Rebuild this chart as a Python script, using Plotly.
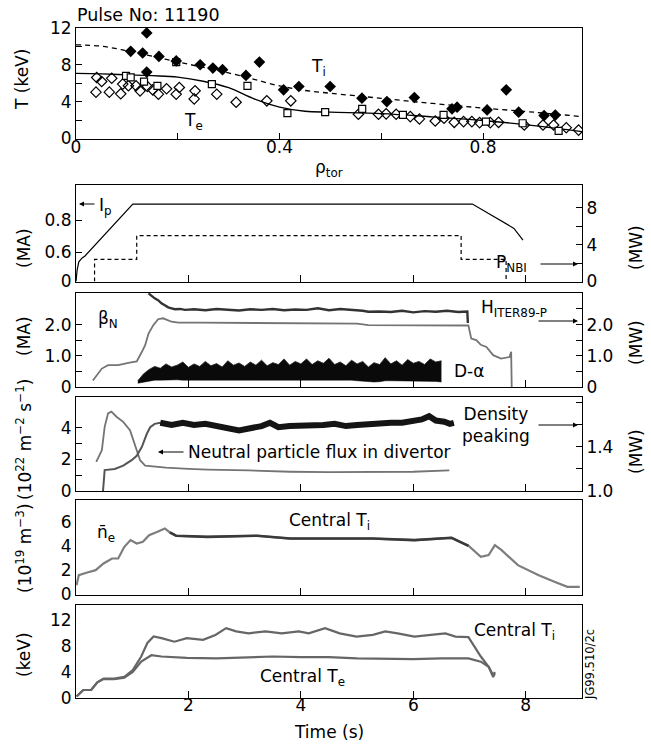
import plotly.graph_objects as go

FONT = "DejaVu Sans"
FS = 17
W, H = 651, 747
L, R = 76, 582

# ---------------- data: top panel (profiles vs rho_tor) ----------------
ti_rho = [0.1075, 0.131, 0.139, 0.139, 0.163, 0.197, 0.244, 0.269, 0.288, 0.334, 0.3605, 0.408,
          0.438, 0.4995, 0.562, 0.611, 0.665, 0.739, 0.749, 0.808, 0.8456, 0.870, 0.920, 0.942]
ti_val = [9.44, 9.26, 11.43, 7.19, 8.89, 8.4, 7.99, 7.63, 7.45, 6.83, 8.28, 5.27,
          5.63, 5.63, 4.37, 4.0, 4.44, 3.21, 3.39, 3.1, 5.27, 2.85, 2.48, 2.54]

te_sq_rho = [0.0983, 0.1075, 0.1337, 0.160, 0.197, 0.267, 0.337, 0.4155, 0.4897, 0.5625,
             0.6425, 0.7224, 0.8057, 0.8778, 0.9485]
te_sq_val = [6.79, 6.61, 6.17, 5.71, 8.28, 5.89, 5.71, 2.74, 2.85, 3.21,
             2.55, 2.55, 1.83, 1.65, 0.82]

te_dm_rho = [0.0407, 0.0505, 0.0702, 0.0393, 0.0655, 0.0879, 0.0918, 0.103, 0.118, 0.1259,
             0.1403, 0.1508, 0.162, 0.178, 0.197, 0.203, 0.234, 0.2323, 0.2767, 0.3147,
             0.375, 0.4222, 0.555, 0.5945, 0.6095, 0.6292, 0.657, 0.675, 0.706, 0.7233,
             0.7434, 0.7617, 0.778, 0.7932, 0.8142, 0.8305, 0.881, 0.9178, 0.9387, 0.9636, 0.9878]
te_dm_val = [6.61, 6.17, 6.52, 5.02, 5.02, 4.84, 5.89, 5.71, 5.71, 5.16,
             5.63, 5.27, 4.8, 5.38, 4.8, 5.52, 5.16, 4.29, 4.8, 3.93,
             4.08, 4.08, 2.63, 2.63, 2.67, 2.63, 2.37, 2.12, 1.9, 2.19,
             1.75, 1.83, 1.83, 1.72, 1.72, 1.75, 1.46, 1.46, 1.46, 1.17, 0.91]

fit_rho = [0, 0.05, 0.1, 0.15, 0.2, 0.25, 0.3, 0.35, 0.4, 0.45, 0.5, 0.6, 0.7, 0.8, 0.9, 0.995]
ti_fit = [10.15, 10.0, 9.5, 8.9, 8.3, 7.7, 7.1, 6.4, 5.7, 5.2, 4.9, 4.35, 3.8, 3.3, 2.85, 2.37]
te_fit = [7.05, 7.0, 6.9, 6.8, 6.65, 6.2, 5.5, 4.3, 3.4, 2.95, 2.85, 2.7, 2.35, 1.95, 1.4, 0.75]

# ---------------- data: time traces ----------------
ip_t = [0.0, 0.02, 0.05, 0.11, 0.16, 0.225, 1.01, 7.05, 7.79, 7.95]
ip_ma = [0.0, 0.23, 0.40, 0.48, 0.52, 0.60, 0.90, 0.90, 0.748, 0.675]

pnbi_t = [0.33, 0.33, 1.08, 6.85, 7.65]
pnbi_mw = [0.0, 2.4, 5.0, 2.4, 0.0]

h_t = [1.29, 1.35, 1.4, 1.46, 1.52, 1.58, 1.64, 1.7, 1.76, 1.85, 1.94, 2.1, 2.3, 2.5, 2.7, 2.9,
       3.1, 3.3, 3.5, 3.7, 3.9, 4.1, 4.3, 4.5, 4.7, 4.9, 5.1, 5.2, 5.4, 5.6, 5.8, 6.0, 6.2,
       6.4, 6.6, 6.8, 6.96, 6.97]
h_val = [3.0, 2.9, 2.84, 2.78, 2.68, 2.62, 2.55, 2.52, 2.49, 2.5, 2.47, 2.49, 2.46, 2.5, 2.47, 2.45,
         2.49, 2.47, 2.5, 2.46, 2.48, 2.47, 2.52, 2.46, 2.5, 2.48, 2.44, 2.41, 2.42, 2.40, 2.44, 2.39,
         2.43, 2.41, 2.44, 2.40, 2.42, 2.05]

bn_t = [0.3, 0.46, 0.57, 0.75, 0.93, 1.08, 1.17, 1.23, 1.29, 1.375, 1.46, 1.55, 1.7, 1.82, 2.2,
        3.0, 4.0, 5.0, 5.2, 6.0, 6.98, 7.03, 7.12, 7.2, 7.3, 7.42, 7.56, 7.71, 7.74, 7.75]
bn_val = [0.21, 0.59, 0.70, 0.70, 0.77, 0.82, 1.12, 1.34, 1.71, 1.98, 2.17, 2.2, 2.09, 2.06, 2.06,
          2.05, 2.04, 2.03, 1.98, 1.98, 1.97, 1.55, 1.5, 1.35, 1.28, 1.02, 0.91, 0.96, 1.13, 0.0]

da_t = [1.1, 1.2, 1.3, 1.4, 1.5, 1.6, 1.7, 1.8, 1.9, 2.0, 2.1, 2.2, 2.3, 2.4, 2.5, 2.6, 2.7, 2.8,
        2.9, 3.0, 3.1, 3.2, 3.3, 3.4, 3.5, 3.6, 3.7, 3.8, 3.9, 4.0, 4.1, 4.2, 4.3, 4.4, 4.5, 4.6,
        4.7, 4.8, 4.9, 5.0, 5.1, 5.2, 5.3, 5.4, 5.5, 5.6, 5.7, 5.8, 5.9, 6.0, 6.1, 6.2, 6.3, 6.4, 6.5]
da_hi = [0.2, 0.42, 0.56, 0.66, 0.6, 0.74, 0.64, 0.7, 0.8, 0.63, 0.74, 0.66, 0.82, 0.68, 0.75, 0.64,
         0.84, 0.7, 0.77, 0.66, 0.8, 0.7, 0.86, 0.68, 0.78, 0.72, 0.9, 0.7, 0.82, 0.74, 0.9, 0.72,
         0.84, 0.76, 0.92, 0.72, 0.8, 0.68, 0.86, 0.74, 0.82, 0.64, 0.78, 0.72, 0.94, 0.74, 0.84, 0.7,
         0.88, 0.76, 0.82, 0.72, 0.9, 0.8, 0.84]
da_lo = [0.12, 0.16, 0.2, 0.22, 0.22, 0.23, 0.22, 0.23, 0.22, 0.23, 0.22, 0.22, 0.23, 0.22, 0.22, 0.23,
         0.22, 0.22, 0.23, 0.22, 0.22, 0.22, 0.23, 0.22, 0.22, 0.22, 0.23, 0.22, 0.22, 0.22, 0.22, 0.22,
         0.22, 0.22, 0.22, 0.22, 0.22, 0.22, 0.22, 0.2, 0.18, 0.16, 0.16, 0.17, 0.2, 0.2, 0.2, 0.2,
         0.2, 0.2, 0.2, 0.2, 0.2, 0.18, 0.16]

nf_t = [0.36, 0.46, 0.51, 0.57, 0.63, 0.72, 0.84, 0.96, 1.02, 1.08, 1.14, 1.23, 1.46, 1.6, 2.0,
        2.34, 3.07, 3.81, 4.5, 5.3, 6.0, 6.64]
nf_val = [1.84, 2.58, 4.06, 4.91, 5.02, 4.7, 4.38, 3.85, 3.22, 2.58, 1.95, 1.6, 1.5, 1.48, 1.4,
          1.35, 1.3, 1.22, 1.2, 1.2, 1.22, 1.3]

dp_t = [0.48, 0.51, 0.69, 0.84, 0.99, 1.08, 1.17, 1.26, 1.32, 1.40, 1.5, 1.7, 1.9, 2.1, 2.3, 2.5,
        2.7, 2.9, 3.1, 3.3, 3.45, 3.6, 3.8, 4.0, 4.2, 4.4, 4.6, 4.8, 5.0, 5.2, 5.4, 5.6, 5.8,
        6.0, 6.15, 6.28, 6.4, 6.55, 6.65, 6.72]
dp_val = [1.0, 1.19, 1.20, 1.23, 1.28, 1.32, 1.40, 1.52, 1.58, 1.61, 1.62, 1.60, 1.62, 1.60, 1.61, 1.59,
          1.58, 1.55, 1.57, 1.59, 1.62, 1.58, 1.59, 1.59, 1.60, 1.60, 1.61, 1.59, 1.60, 1.61, 1.61, 1.62,
          1.62, 1.63, 1.65, 1.68, 1.64, 1.63, 1.61, 1.62]

ne_t = [0.01, 0.05, 0.2, 0.35, 0.49, 0.64, 0.75, 0.86, 0.97, 1.08, 1.19, 1.3, 1.45, 1.58, 1.67, 1.78,
        2.34, 3.22, 3.81, 5.28, 6.02, 6.68, 6.83, 6.98, 7.2, 7.34, 7.45, 7.57, 7.86, 8.23, 8.52,
        8.74, 8.96]
ne_val = [0.77, 1.6, 1.82, 2.01, 2.56, 2.97, 2.97, 3.94, 4.49, 4.21, 4.35, 4.9, 5.18, 5.45, 5.12, 4.85,
          4.76, 4.85, 4.62, 4.62, 4.49, 4.68, 4.35, 4.02, 3.11, 3.25, 4.07, 3.66, 2.42, 1.59, 1.04,
          0.63, 0.63]

cti_t = [0.01, 0.13, 0.27, 0.38, 0.49, 0.68, 0.86, 1.01, 1.16, 1.27, 1.38, 1.52, 1.75, 1.97, 2.26,
         2.48, 2.67, 2.85, 3.07, 3.37, 3.66, 3.96, 4.14, 4.43, 4.69, 4.99, 5.28, 5.5, 5.72, 6.02,
         6.31, 6.57, 6.75, 6.98, 7.2, 7.34, 7.42, 7.45]
cti_val = [0.2, 1.2, 1.2, 2.4, 2.97, 2.97, 3.24, 4.3, 6.4, 8.5, 9.5, 9.25, 8.7, 9.25, 9.0,
           9.75, 10.8, 10.3, 10.0, 10.3, 10.0, 10.3, 10.0, 10.8, 10.0, 9.5, 9.75, 10.3, 10.0, 9.5,
           9.75, 10.0, 9.5, 9.4, 6.4, 4.8, 3.5, 4.0]

cte_t = [0.01, 0.13, 0.27, 0.38, 0.49, 0.68, 0.86, 1.01, 1.16, 1.34, 1.52, 1.97, 2.5, 3.0, 3.5,
         4.0, 4.5, 5.0, 5.5, 6.0, 6.5, 6.98, 7.2, 7.34, 7.42, 7.45]
cte_val = [0.2, 1.2, 1.2, 2.4, 2.9, 2.9, 3.1, 4.0, 5.6, 6.6, 6.4, 6.2, 6.1, 6.2, 6.4,
           6.3, 6.3, 6.1, 6.0, 6.0, 6.1, 6.1, 5.6, 4.8, 3.2, 3.8]

# ---------------- helpers ----------------
def PX(x):
    return (x - L) / (R - L)


def PY(y):
    return 1 - y / H


def dom(top, bot):
    return [PY(bot), PY(top)]


IP_BOT = 0.416


def ip_scale(v):
    # broken left axis of the Ip panel: 0..0.6 MA compressed below the 0.6 tick
    return v if v >= 0.6 else IP_BOT + v * (0.6 - IP_BOT) / 0.6


GRAY = "#747474"

fig = go.Figure()

# top panel
fig.add_trace(go.Scatter(x=te_dm_rho, y=te_dm_val, mode="markers", xaxis="x", yaxis="y",
                         marker=dict(symbol="diamond-open", size=8, color="black", line=dict(width=1.2))))
fig.add_trace(go.Scatter(x=fit_rho, y=ti_fit, mode="lines", xaxis="x", yaxis="y", line_shape="spline",
                         line=dict(color="black", width=1.3, dash="5px,4px")))
fig.add_trace(go.Scatter(x=fit_rho, y=te_fit, mode="lines", xaxis="x", yaxis="y", line_shape="spline",
                         line=dict(color="black", width=1.3)))
fig.add_trace(go.Scatter(x=te_sq_rho, y=te_sq_val, mode="markers", xaxis="x", yaxis="y",
                         marker=dict(symbol="square", size=7, color="white",
                                     line=dict(width=1.2, color="black"))))
fig.add_trace(go.Scatter(x=ti_rho, y=ti_val, mode="markers", xaxis="x", yaxis="y",
                         marker=dict(symbol="diamond", size=9, color="black")))

# panel 2: Ip and PNBI
fig.add_trace(go.Scatter(x=ip_t, y=[ip_scale(v) for v in ip_ma], mode="lines", xaxis="x2", yaxis="y2",
                         line=dict(color="black", width=1.2)))
fig.add_trace(go.Scatter(x=pnbi_t, y=pnbi_mw, mode="lines", xaxis="x2", yaxis="y7", line_shape="hv",
                         line=dict(color="black", width=1.2, dash="4px,3px")))

# panel 3: beta_N, H factor, D-alpha
fig.add_trace(go.Scatter(x=da_t, y=da_lo, mode="lines", xaxis="x3", yaxis="y3",
                         line=dict(color="black", width=0.5)))
fig.add_trace(go.Scatter(x=da_t, y=da_hi, mode="lines", xaxis="x3", yaxis="y3", fill="tonexty",
                         fillcolor="#0a0a0a", line=dict(color="#222222", width=0.8)))
fig.add_trace(go.Scatter(x=bn_t, y=bn_val, mode="lines", xaxis="x3", yaxis="y3",
                         line=dict(color=GRAY, width=1.8)))
fig.add_trace(go.Scatter(x=h_t, y=h_val, mode="lines", xaxis="x3", yaxis="y8",
                         line=dict(color="#333333", width=2.4)))

# panel 4: neutral flux and density peaking
fig.add_trace(go.Scatter(x=nf_t, y=nf_val, mode="lines", xaxis="x4", yaxis="y4",
                         line=dict(color=GRAY, width=1.8)))
fig.add_trace(go.Scatter(x=dp_t, y=dp_val, mode="lines", xaxis="x4", yaxis="y9",
                         line=dict(color="#555555", width=2)))
fig.add_trace(go.Scatter(x=dp_t[10:], y=dp_val[10:], mode="lines", xaxis="x4", yaxis="y9",
                         line=dict(color="#141414", width=6)))

# panel 5: line-averaged density
fig.add_trace(go.Scatter(x=ne_t, y=ne_val, mode="lines", xaxis="x5", yaxis="y5",
                         line=dict(color="#7d7d7d", width=2.2)))
fig.add_trace(go.Scatter(x=ne_t[14:24], y=ne_val[14:24], mode="lines", xaxis="x5", yaxis="y5",
                         line=dict(color="#3a3a3a", width=2.6)))

# panel 6: central temperatures
fig.add_trace(go.Scatter(x=cti_t, y=cti_val, mode="lines", xaxis="x6", yaxis="y6",
                         line=dict(color="#666666", width=2.2)))
fig.add_trace(go.Scatter(x=cte_t, y=cte_val, mode="lines", xaxis="x6", yaxis="y6",
                         line=dict(color="#666666", width=2.2)))

# ---------------- axes ----------------
tickfont = dict(family=FONT, size=FS, color="black")


def base_axis(**kw):
    d = dict(showline=True, linecolor="black", linewidth=1, mirror=True, ticks="inside",
             ticklen=6, tickwidth=1, tickcolor="black", showgrid=False, zeroline=False,
             tickfont=tickfont, automargin=False, fixedrange=True)
    d.update(kw)
    return d


panels = {1: (27.7, 138.5), 2: (185, 281.5), 3: (292.7, 387), 4: (396.7, 491),
          5: (500, 594.5), 6: (605, 697.7)}

layout = dict(
    width=W, height=H, margin=dict(l=L, r=W - R, t=0, b=0),
    paper_bgcolor="white", plot_bgcolor="white", showlegend=False,
    font=dict(family=FONT, size=FS, color="black"),
)

layout["xaxis"] = base_axis(domain=[0, 1], anchor="y", range=[0, 0.9945], ticklabelstandoff=-7,
                            tickvals=[0, 0.2, 0.4, 0.6, 0.8], ticktext=["0", "", "0.4", "", "0.8"])
layout["yaxis"] = base_axis(domain=dom(*panels[1]), anchor="x", range=[0, 12],
                            tickvals=[0, 2, 4, 6, 8, 10, 12],
                            ticktext=["0", "", "4", "", "8", "", "12"])

for i in range(2, 7):
    layout["xaxis%d" % i] = base_axis(domain=[0, 1], anchor="y%d" % i, range=[0, 9],
                                      tickvals=[2, 4, 6, 8], ticklen=7, ticklabelstandoff=-8,
                                      showticklabels=(i == 6),
                                      matches=None if i == 2 else "x2")

layout["yaxis2"] = base_axis(domain=dom(*panels[2]), anchor="x2", range=[IP_BOT, 1.019],
                             tickvals=[IP_BOT, 0.6, 0.8], ticktext=["0", "0.6", "0.8"])
layout["yaxis7"] = base_axis(overlaying="y2", anchor="x2", side="right", range=[0, 10.5],
                             tickvals=[0, 2, 4, 6, 8], ticktext=["0", "", "4", "", "8"])
layout["yaxis3"] = base_axis(domain=dom(*panels[3]), anchor="x3", range=[0, 3.02],
                             tickvals=[0, 0.5, 1, 1.5, 2], ticktext=["0", "", "1.0", "", "2.0"])
layout["yaxis8"] = base_axis(overlaying="y3", anchor="x3", side="right", range=[0, 3.02],
                             tickvals=[0, 0.5, 1, 1.5, 2, 2.5, 3],
                             ticktext=["0", "", "1.0", "", "2.0", "", ""])
layout["yaxis4"] = base_axis(domain=dom(*panels[4]), anchor="x4", range=[0, 5.97],
                             tickvals=[0, 1, 2, 3, 4], ticktext=["0", "", "2", "", "4"])
layout["yaxis9"] = base_axis(overlaying="y4", anchor="x4", side="right", range=[1.0, 1.857],
                             tickvals=[1.0, 1.2, 1.4, 1.6, 1.8], ticktext=["1.0", "", "1.4", "", ""])
layout["yaxis5"] = base_axis(domain=dom(*panels[5]), anchor="x5", range=[0, 7.8], ticks="",
                             tickvals=[0, 2, 4, 6], ticktext=["0", "2", "4", "6"])
layout["yaxis6"] = base_axis(domain=dom(*panels[6]), anchor="x6", range=[0, 14.4], ticks="",
                             tickvals=[0, 4, 8, 12], ticktext=["0", "4", "8", "12"])

fig.update_layout(**layout)

# ---------------- annotations ----------------
ann = []


def text(t, x, y, xanchor="left", size=FS, angle=0):
    ann.append(dict(text=t, x=PX(x), y=PY(y), xref="paper", yref="paper", showarrow=False,
                    xanchor=xanchor, yanchor="middle", textangle=angle,
                    font=dict(family=FONT, size=size, color="black")))


def arrow(x_head, x_tail, y):
    ann.append(dict(text="", x=PX(x_head), y=PY(y), xref="paper", yref="paper",
                    ax=x_tail - x_head, ay=0, axref="pixel", ayref="pixel", showarrow=True,
                    arrowhead=2, arrowsize=1, arrowwidth=1, arrowcolor="black"))


text("Pulse No: 11190", 75, 15, size=17.5)
text("ρ<sub>tor</sub>", 329, 168, xanchor="center")
text("T (keV)", 22, 80, xanchor="center", angle=-90)
text("T<sub>i</sub>", 309, 67)
text("T<sub>e</sub>", 182, 121)

text("I<sub>p</sub>", 97, 206)
arrow(79, 96, 204)
text("P<sub>NBI</sub>", 494, 264)
arrow(578, 539, 264)
text("(MA)", 24, 248, xanchor="center", angle=-90)
text("(MW)", 636, 248, xanchor="center", angle=-90)

text("β<sub>N</sub>", 96, 319)
text("H<sub>ITER89-P</sub>", 479, 308)
arrow(578, 537, 321)
text("D-α", 452, 371)
text("(MA)", 24, 336, xanchor="center", angle=-90)
text("(MW)", 636, 343, xanchor="center", angle=-90)

text("(10<sup>22</sup> m<sup>−2</sup> s<sup>−1</sup>)", 24, 440, xanchor="center", angle=-90)
text("Density<br>peaking", 496, 425, xanchor="center")
arrow(578, 537, 425)
text("Neutral particle flux in divertor", 186, 452)
arrow(158, 185, 452)
text("(MW)", 636, 452, xanchor="center", angle=-90)

text("n\u0304<sub>e</sub>", 95, 533)
text("Central T<sub>i</sub>", 287, 521)
text("(10<sup>19</sup> m<sup>−3</sup>)", 24, 548, xanchor="center", angle=-90)

text("Central T<sub>i</sub>", 472, 631)
text("Central T<sub>e</sub>", 258, 677)
text("(keV)", 24, 655, xanchor="center", angle=-90)
text("JG99.510/2c", 590, 665, xanchor="center", size=11.5, angle=-90)
text("Time (s)", 329, 732, xanchor="center")

fig.update_layout(annotations=ann)

fig.write_html("out.html")
